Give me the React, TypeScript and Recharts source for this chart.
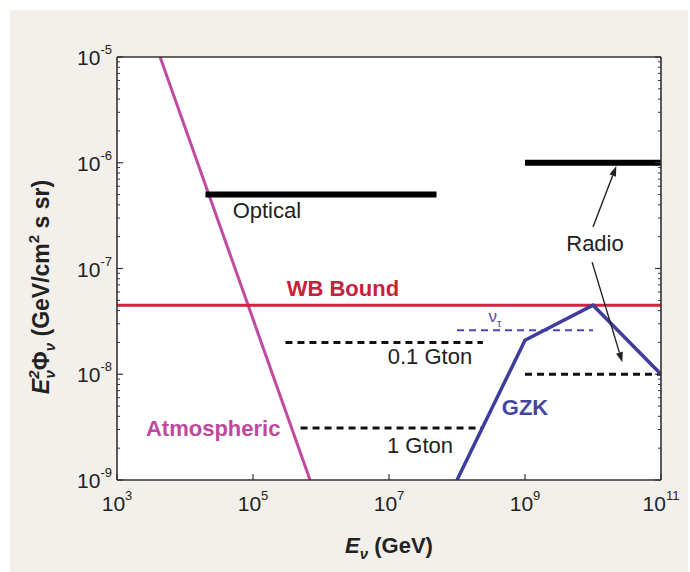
import React from 'react';
import { LineChart, Line, XAxis, YAxis, CartesianGrid, ReferenceDot, ReferenceLine } from 'recharts';

// energies in GeV, fluxes E^2 Phi in GeV/cm^2 s sr
const atmospheric = [
  { x: 4300, y: 1e-5 },
  { x: 6.9e5, y: 1e-9 },
];
const optical = [
  { x: 2e4, y: 5e-7 },
  { x: 5e7, y: 5e-7 },
];
const wbBound = [
  { x: 1e3, y: 4.5e-8 },
  { x: 1e11, y: 4.5e-8 },
];
const gton01 = [
  { x: 3e5, y: 2e-8 },
  { x: 2.4e8, y: 2e-8 },
];
const gton1 = [
  { x: 5e5, y: 3.1e-9 },
  { x: 2.4e8, y: 3.1e-9 },
];
const radioTop = [
  { x: 1e9, y: 1e-6 },
  { x: 1e11, y: 1e-6 },
];
const radioLow = [
  { x: 1e9, y: 1e-8 },
  { x: 1e11, y: 1e-8 },
];
const nuTau = [
  { x: 1e8, y: 2.6e-8 },
  { x: 1e10, y: 2.6e-8 },
];
const gzk = [
  { x: 1e8, y: 1e-9 },
  { x: 1e9, y: 2.1e-8 },
  { x: 1e10, y: 4.5e-8 },
  { x: 1e11, y: 1e-8 },
];

const xTicks = [1e3, 1e5, 1e7, 1e9, 1e11];
const yTicks = [1e-9, 1e-8, 1e-7, 1e-6, 1e-5];
const yAllTicks = [
  1e-9, 2e-9, 3e-9, 4e-9, 5e-9, 6e-9, 7e-9, 8e-9, 9e-9,
  1e-8, 2e-8, 3e-8, 4e-8, 5e-8, 6e-8, 7e-8, 8e-8, 9e-8,
  1e-7, 2e-7, 3e-7, 4e-7, 5e-7, 6e-7, 7e-7, 8e-7, 9e-7,
  1e-6, 2e-6, 3e-6, 4e-6, 5e-6, 6e-6, 7e-6, 8e-6, 9e-6,
  1e-5,
];

const labels = [
  { x: 1.6e5, y: 3.5e-7, text: 'Optical', color: '#222', bold: false },
  { x: 2.1e6, y: 6.5e-8, text: 'WB Bound', color: '#c8203c', bold: true },
  { x: 4e7, y: 1.46e-8, text: '0.1 Gton', color: '#222', bold: false },
  { x: 2.86e7, y: 2.1e-9, text: '1 Gton', color: '#222', bold: false },
  { x: 2.6e4, y: 3.1e-9, text: 'Atmospheric', color: '#c0479e', bold: true },
  { x: 1e9, y: 4.8e-9, text: 'GZK', color: '#45459f', bold: true },
  { x: 1.07e10, y: 1.74e-7, text: 'Radio', color: '#222', bold: false },
];
const nuTauLabel = { x: 3.6e8, y: 3.5e-8 };

const arrows = [
  { from: { x: 1e10, y: 2.47e-7 }, to: { x: 2.2e10, y: 9.3e-7 } },
  { from: { x: 9.7e9, y: 1.15e-7 }, to: { x: 2.7e10, y: 1.3e-8 } },
];

const FONT = '"Liberation Sans", Arial, Helvetica, sans-serif';
const AXIS = '#333';

const exponent = (v: number) => String(Math.round(Math.log10(v)));
const isMajor = (v: number) => Math.abs(Math.log10(v) - Math.round(Math.log10(v))) < 1e-6;

const LeftTick = (props: any) => {
  const { x, y, payload } = props;
  const major = isMajor(payload.value);
  return (
    <g>
      <line x1={x} x2={x + (major ? 6 : 3)} y1={y} y2={y} stroke={AXIS} strokeWidth={major ? 1.2 : 1} />
      {major && (
        <text x={x - 5} y={y + 8} textAnchor="end" fontFamily={FONT} fontSize={21} fill="#222">
          <tspan>10</tspan>
          <tspan fontSize={13} dy={-11}>{exponent(payload.value)}</tspan>
        </text>
      )}
    </g>
  );
};

const RightTick = (props: any) => {
  const { x, y, payload } = props;
  const major = isMajor(payload.value);
  return <line x1={x} x2={x - (major ? 6 : 3)} y1={y} y2={y} stroke={AXIS} strokeWidth={major ? 1.2 : 1} />;
};

const BottomTick = (props: any) => {
  const { x, y, payload } = props;
  return (
    <g>
      <line x1={x} x2={x} y1={y} y2={y - 6} stroke={AXIS} strokeWidth={1.2} />
      <text x={x} y={y + 31} textAnchor="middle" fontFamily={FONT} fontSize={21} fill="#222">
        <tspan>10</tspan>
        <tspan fontSize={13} dy={-11}>{exponent(payload.value)}</tspan>
      </text>
    </g>
  );
};

const TopTick = (props: any) => {
  const { x, y } = props;
  return <line x1={x} x2={x} y1={y} y2={y + 6} stroke={AXIS} strokeWidth={1.2} />;
};

const Arrow = (props: any) => {
  const { x1, y1, x2, y2 } = props;
  const a = Math.atan2(y2 - y1, x2 - x1);
  const len = 10;
  const w = 3.5;
  const bx = x2 - len * Math.cos(a);
  const by = y2 - len * Math.sin(a);
  const px = -Math.sin(a) * w;
  const py = Math.cos(a) * w;
  return (
    <g>
      <line x1={x1} y1={y1} x2={bx} y2={by} stroke="#222" strokeWidth={1.4} />
      <polygon points={`${x2},${y2} ${bx + px},${by + py} ${bx - px},${by - py}`} fill="#222" />
    </g>
  );
};

const series = [
  { data: atmospheric, color: '#c04aa0', width: 3, dash: undefined },
  { data: optical, color: '#000', width: 6, dash: undefined },
  { data: wbBound, color: '#d4213d', width: 3, dash: undefined },
  { data: gton01, color: '#111', width: 3, dash: '7 5' },
  { data: gton1, color: '#111', width: 3, dash: '7 5' },
  { data: radioTop, color: '#000', width: 6, dash: undefined },
  { data: radioLow, color: '#111', width: 3, dash: '7 5' },
  { data: nuTau, color: '#4a4aaa', width: 2, dash: '7 5' },
  { data: gzk, color: '#3d3d9e', width: 3.5, dash: undefined },
];

const axisLine = { stroke: AXIS, strokeWidth: 1.6 };

export default function App() {
  return (
    <div style={{ position: 'relative', width: 690, height: 572, background: '#fff', overflow: 'hidden' }}>
      <style>{'body{margin:0}'}</style>
      <div style={{ position: 'absolute', left: 10, top: 10, right: 2, bottom: 0, background: '#f3f0ec' }} />
      <div style={{ position: 'absolute', left: 0, top: 0 }}>
        <LineChart width={690} height={572} margin={{ top: 56, right: 28, bottom: 91, left: 116 }}>
          <CartesianGrid xAxisId="x" yAxisId="y" horizontal={false} vertical={false} fill="#fff" stroke="none" />
          <XAxis
            xAxisId="x"
            dataKey="x"
            type="number"
            scale="log"
            domain={[1e3, 1e11]}
            allowDataOverflow
            ticks={xTicks}
            height={1}
            tickSize={0}
            tickMargin={0}
            tickLine={false}
            tick={<BottomTick />}
            axisLine={axisLine}
            interval={0}
          />
          <XAxis
            xAxisId="xTop"
            orientation="top"
            type="number"
            scale="log"
            domain={[1e3, 1e11]}
            allowDataOverflow
            ticks={xTicks}
            height={1}
            tickSize={0}
            tickMargin={0}
            tickLine={false}
            tick={<TopTick />}
            axisLine={axisLine}
            interval={0}
          />
          <YAxis
            yAxisId="y"
            type="number"
            scale="log"
            domain={[1e-9, 1e-5]}
            allowDataOverflow
            ticks={yAllTicks}
            width={1}
            tickSize={0}
            tickMargin={0}
            tickLine={false}
            tick={<LeftTick />}
            axisLine={axisLine}
            interval={0}
          />
          <YAxis
            yAxisId="yR"
            orientation="right"
            type="number"
            scale="log"
            domain={[1e-9, 1e-5]}
            allowDataOverflow
            ticks={yAllTicks}
            width={1}
            tickSize={0}
            tickMargin={0}
            tickLine={false}
            tick={<RightTick />}
            axisLine={axisLine}
            interval={0}
          />
          {series.map((s, i) => (
            <Line
              key={i}
              xAxisId="x"
              yAxisId="y"
              data={s.data}
              dataKey="y"
              type="linear"
              stroke={s.color}
              strokeWidth={s.width}
              strokeDasharray={s.dash}
              dot={false}
              activeDot={false}
              isAnimationActive={false}
            />
          ))}
          {arrows.map((a, i) => (
            <ReferenceLine
              key={'a' + i}
              xAxisId="x"
              yAxisId="y"
              segment={[a.from, a.to]}
              shape={<Arrow />}
              ifOverflow="visible"
            />
          ))}
          {labels.map((l, i) => (
            <ReferenceDot
              key={'l' + i}
              xAxisId="x"
              yAxisId="y"
              x={l.x}
              y={l.y}
              r={0}
              ifOverflow="visible"
              shape={(p: any) => (
                <text
                  x={p.cx}
                  y={p.cy}
                  textAnchor="middle"
                  dominantBaseline="central"
                  fontFamily={FONT}
                  fontSize={22}
                  fontWeight={l.bold ? 'bold' : 'normal'}
                  fill={l.color}
                >
                  {l.text}
                </text>
              )}
            />
          ))}
          <ReferenceDot
            xAxisId="x"
            yAxisId="y"
            x={nuTauLabel.x}
            y={nuTauLabel.y}
            r={0}
            ifOverflow="visible"
            shape={(p: any) => (
              <text x={p.cx} y={p.cy + 5} textAnchor="middle" fontFamily={FONT} fontSize={17} fill="#4a4aaa">
                <tspan>ν</tspan>
                <tspan fontSize={11} dy={5}>τ</tspan>
              </text>
            )}
          />
        </LineChart>
      </div>
      <svg width={690} height={572} style={{ position: 'absolute', left: 0, top: 0, pointerEvents: 'none' }}>
        <text
          x={49}
          y={287}
          transform="rotate(-90, 49, 287)"
          textAnchor="middle"
          fontFamily={FONT}
          fontSize={23}
          fontWeight="bold"
          fill="#222"
        >
          <tspan fontStyle="italic">E</tspan>
          <tspan fontStyle="italic" fontSize={15} dy={-10}>2</tspan>
          <tspan fontStyle="italic" fontSize={15} dx={-8} dy={16}>ν</tspan>
          <tspan dy={-6}>Φ</tspan>
          <tspan fontStyle="italic" fontSize={15} dy={6}>ν</tspan>
          <tspan dy={-6}> (GeV/cm</tspan>
          <tspan fontSize={15} dy={-10}>2</tspan>
          <tspan dy={10}> s sr)</tspan>
        </text>
        <text x={389} y={553} textAnchor="middle" fontFamily={FONT} fontSize={22} fontWeight="bold" fill="#222">
          <tspan fontStyle="italic">E</tspan>
          <tspan fontStyle="italic" fontSize={15} dy={6}>ν</tspan>
          <tspan dy={-6}> (GeV)</tspan>
        </text>
      </svg>
    </div>
  );
}
